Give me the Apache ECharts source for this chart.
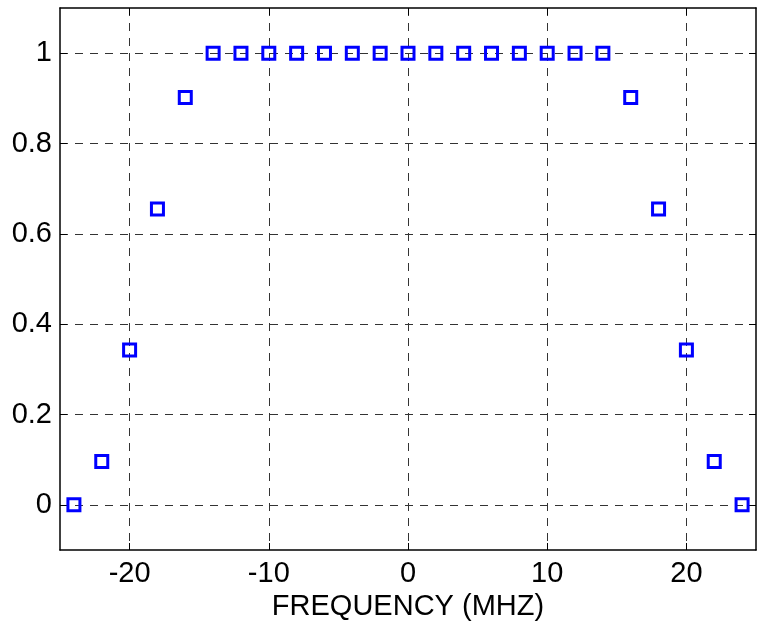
<!DOCTYPE html>
<html>
<head>
<meta charset="utf-8">
<script src="https://cdn.jsdelivr.net/npm/echarts@6/dist/echarts.min.js"></script>
<style>
  html, body { margin: 0; padding: 0; background: #fff; }
  #chart { width: 759px; height: 627px; }
</style>
</head>
<body>
<div id="chart"></div>
<script>
// subcarrier frequencies (MHz) and window gain
var freqs = [-24, -22, -20, -18, -16, -14, -12, -10, -8, -6, -4, -2, 0,
             2, 4, 6, 8, 10, 12, 14, 16, 18, 20, 22, 24];
var gains = [0, 0.096, 0.343, 0.655, 0.902, 1, 1, 1, 1, 1, 1, 1, 1,
             1, 1, 1, 1, 1, 1, 1, 0.902, 0.655, 0.343, 0.096, 0];
var xTicks = [-20, -10, 0, 10, 20];
var yTicks = [0, 0.2, 0.4, 0.6, 0.8, 1];

var chart = echarts.init(document.getElementById('chart'));

var font = 'Liberation Sans, Arial, sans-serif';
var frameLine = { show: true, onZero: false, lineStyle: { color: '#000', width: 1.5 } };
var gridLine = { show: true, lineStyle: { color: '#333', width: 1, type: [8, 7] } };

var option = {
  animation: false,
  backgroundColor: '#fff',
  grid: { left: 60, right: 3, top: 8, bottom: 77, containLabel: false },
  xAxis: [{
    type: 'value', min: -25, max: 25,
    name: 'FREQUENCY (MHZ)', nameLocation: 'middle', nameGap: 40,
    nameTextStyle: { color: '#000', fontSize: 29, fontFamily: font },
    axisLine: frameLine,
    axisTick: { show: true, inside: true, length: 7, customValues: xTicks, lineStyle: { color: '#000' } },
    axisLabel: { customValues: xTicks, color: '#000', fontSize: 29, fontFamily: font, margin: 9 },
    splitLine: gridLine
  }, {
    type: 'value', min: -25, max: 25, position: 'top',
    axisLine: frameLine,
    axisTick: { show: true, inside: true, length: 7, customValues: xTicks, lineStyle: { color: '#000' } },
    axisLabel: { show: false },
    splitLine: { show: false }
  }],
  yAxis: [{
    type: 'value', min: -0.1, max: 1.1,
    axisLine: frameLine,
    axisTick: { show: true, inside: true, length: 7, customValues: yTicks, lineStyle: { color: '#000' } },
    axisLabel: { customValues: yTicks, color: '#000', fontSize: 29, fontFamily: font, margin: 8 },
    splitLine: gridLine
  }, {
    type: 'value', min: -0.1, max: 1.1, position: 'right',
    axisLine: frameLine,
    axisTick: { show: true, inside: true, length: 7, customValues: yTicks, lineStyle: { color: '#000' } },
    axisLabel: { show: false },
    splitLine: { show: false }
  }],
  series: [{
    type: 'scatter',
    xAxisIndex: 0, yAxisIndex: 0,
    data: freqs.map(function (f, i) { return [f, gains[i]]; }),
    symbol: 'rect',
    symbolSize: 12,
    itemStyle: { color: 'transparent', borderColor: '#0000ff', borderWidth: 3, opacity: 1 }
  }]
};

chart.setOption(option);
</script>
</body>
</html>
